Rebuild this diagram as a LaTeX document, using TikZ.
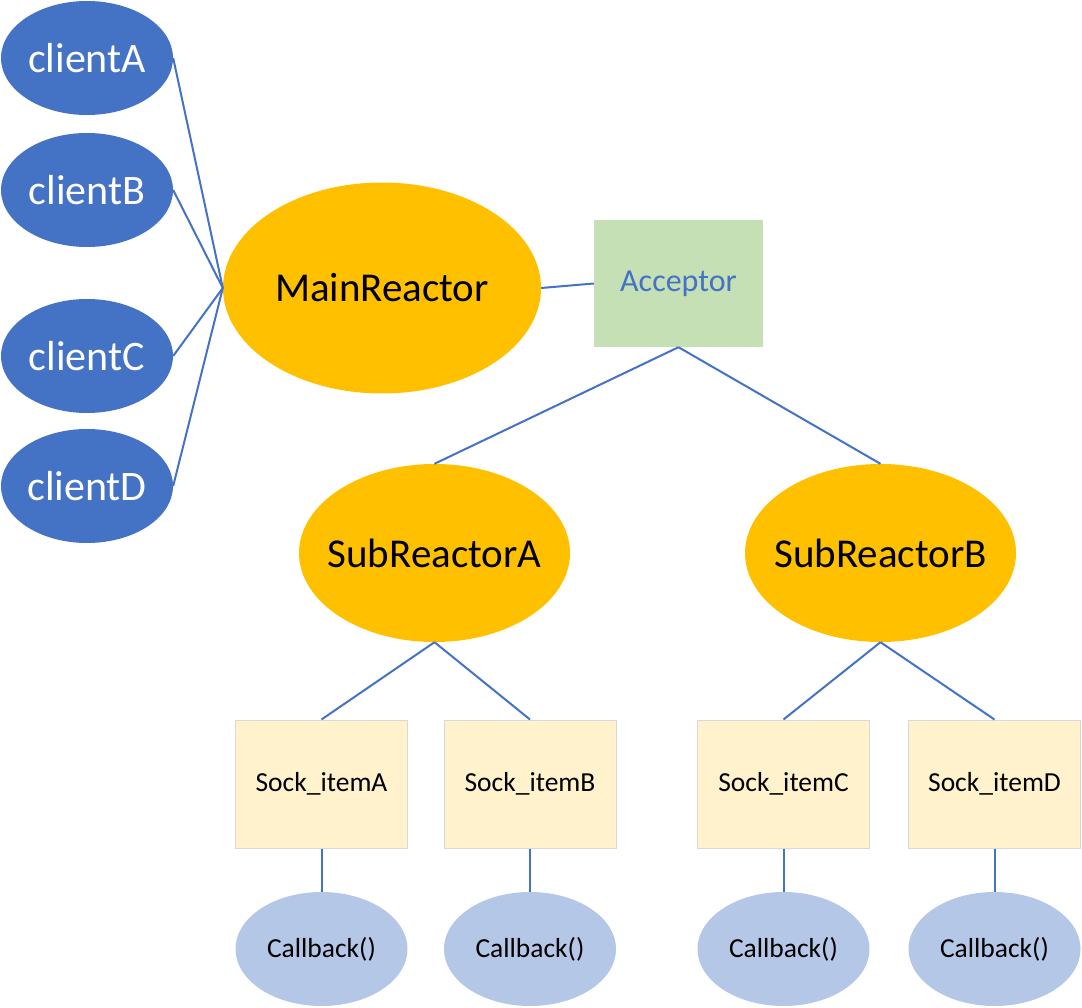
\documentclass[tikz,border=0pt]{standalone}
\usepackage{fontspec}
\setmainfont{Carlito}
\usetikzlibrary{shapes.geometric}
\definecolor{cblue}{HTML}{4472C4}
\definecolor{corange}{HTML}{FFC000}
\definecolor{cgreen}{HTML}{C5E0B4}
\definecolor{cyellow}{HTML}{FFF2CC}
\definecolor{cgrey}{HTML}{D9D9D9}
\definecolor{clight}{HTML}{B4C7E7}
\begin{document}
\begin{tikzpicture}[x=1pt,y=-1pt,
	client/.style={ellipse,fill=cblue,text=white,inner sep=0pt,minimum width=172pt,minimum height=114pt,font=\fontsize{42}{46}\selectfont},
	reactor/.style={ellipse,fill=corange,inner ysep=0pt,inner xsep=-14pt,font=\fontsize{41}{45}\selectfont},
	sockbox/.style={rectangle,fill=cyellow,draw=cgrey,line width=1pt,inner sep=0pt,minimum width=172pt,minimum height=128pt,font=\fontsize{27.5}{31}\selectfont},
	callbk/.style={ellipse,fill=clight,inner sep=0pt,minimum width=172pt,minimum height=114pt,font=\fontsize{27.5}{31}\selectfont},
	link/.style={draw=cblue,line width=2pt}]
	\useasboundingbox (0,0) rectangle (1082,1008);

	% clients
	\node[client] (clientA) at (87,58) {clientA};
	\node[client] (clientB) at (87,190) {clientB};
	\node[client] (clientC) at (87,356) {clientC};
	\node[client] (clientD) at (87,486) {clientD};

	% reactors and acceptor
	\node[reactor,minimum width=318pt,minimum height=211pt] (main) at (382,288) {MainReactor};
	\node[rectangle,fill=cgreen,text=cblue,inner sep=0pt,minimum width=169pt,minimum height=127pt,font=\fontsize{32}{36}\selectfont] (acceptor) at (678.5,283.5) {Acceptor};
	\node[reactor,minimum width=271pt,minimum height=178pt] (subA) at (434.5,553) {SubReactorA};
	\node[reactor,minimum width=271pt,minimum height=178pt] (subB) at (880.5,553) {SubReactorB};

	% sock items
	\node[sockbox] (sockA) at (321.5,784) {Sock\_itemA};
	\node[sockbox] (sockB) at (530,784) {Sock\_itemB};
	\node[sockbox] (sockC) at (783.5,784) {Sock\_itemC};
	\node[sockbox] (sockD) at (994.5,784) {Sock\_itemD};

	% callbacks
	\node[callbk] (cbA) at (321.5,949) {Callback()};
	\node[callbk] (cbB) at (530,949) {Callback()};
	\node[callbk] (cbC) at (783.5,949) {Callback()};
	\node[callbk] (cbD) at (994.5,949) {Callback()};

	\foreach \c in {clientA,clientB,clientC,clientD}
		\draw[link] (\c.east) -- (main.west);
	\draw[link] (main.east) -- (acceptor.west);
	\draw[link] (acceptor.south) -- (subA.north);
	\draw[link] (acceptor.south) -- (subB.north);
	\draw[link] (subA.south) -- (sockA.north);
	\draw[link] (subA.south) -- (sockB.north);
	\draw[link] (subB.south) -- (sockC.north);
	\draw[link] (subB.south) -- (sockD.north);
	\foreach \s/\b in {sockA/cbA,sockB/cbB,sockC/cbC,sockD/cbD}
		\draw[link] (\s.south) -- (\b.north);
\end{tikzpicture}
\end{document}
